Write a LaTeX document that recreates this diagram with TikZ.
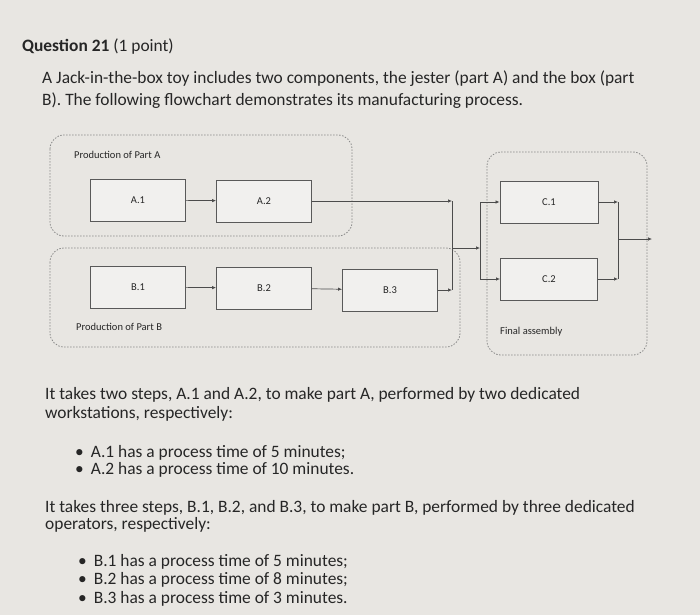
\documentclass[tikz,border=0pt]{standalone}
\usepackage{fontspec}
\setmainfont{Carlito}
\usetikzlibrary{arrows.meta}
\definecolor{bg}{HTML}{E8E6E2}
\definecolor{ink}{HTML}{262626}
\definecolor{grp}{HTML}{8A8A8A}
\begin{document}
\begin{tikzpicture}[x=1pt,y=-1pt,
  txt/.style={anchor=base west,inner sep=0pt,font=\fontsize{17.4}{19}\selectfont,text=ink},
  stepbox/.style={draw=gray!70!black,line width=0.9pt,fill=bg!60!white,minimum width=95pt,minimum height=42pt,font=\fontsize{10.5}{12}\selectfont,text=ink,inner sep=0pt},
  group/.style={draw=grp,dashed,dash pattern=on 1.5pt off 1.5pt,rounded corners=14pt,line width=0.8pt},
  glabel/.style={anchor=base west,inner sep=0pt,font=\fontsize{10.5}{12}\selectfont,text=ink},
  conn/.style={draw=gray!60!black,line width=0.7pt},
  arr/.style={conn,-{Latex[length=4pt,width=3.5pt]}}]
\fill[bg] (0,0) rectangle (700,615);
\useasboundingbox (0,0) rectangle (700,615);
\node[txt] (q) at (22,52) {\textbf{Question 21} (1 point)};
\node[txt] (p1) at (42,84) {A Jack-in-the-box toy includes two components, the jester (part A) and the box (part};
\node[txt] (p2) at (42,106) {B). The following flowchart demonstrates its manufacturing process.};
% groups
\draw[group] (50,135) rectangle (352,236);
\draw[group] (50,248) rectangle (460,347);
\draw[group] (487,152) rectangle (647,355);
\node[glabel] (ga) at (74,158) {Production of Part A};
\node[glabel] (gb) at (76,330) {Production of Part B};
\node[glabel] (gc) at (500,334) {Final assembly};
% boxes
\node[stepbox] (a1) at (138,200) {A.1};
\node[stepbox] (a2) at (264,201) {A.2};
\node[stepbox] (b1) at (138,287) {B.1};
\node[stepbox] (b2) at (264,288) {B.2};
\node[stepbox] (b3) at (390,290) {B.3};
\node[stepbox,minimum width=98pt] (c1) at (549,202) {C.1};
\node[stepbox,minimum width=97pt] (c2) at (549,279) {C.2};
\coordinate (ja) at (452,201);
\coordinate (jb) at (452,290);
\coordinate (jm) at (452,248);
\coordinate (jx) at (480,248);
\coordinate (jc1) at (480,202);
\coordinate (jc2) at (480,279);
\coordinate (k1) at (618,202);
\coordinate (k2) at (618,279);
\coordinate (km) at (618,239);
\coordinate (out) at (652,239);
\draw[arr] (a1) -- (a2);
\draw[arr] (b1) -- (b2);
\draw[arr] (b2) -- (b3);
\draw[arr] (a2.east) -- (ja);
\draw[arr] (b3.east) -- (jb);
\draw[conn] (ja) -- (jb);
\draw[arr] (jm) -- (jx);
\draw[conn] (jc1) -- (jc2);
\draw[arr] (jc1) -- (c1.west);
\draw[arr] (jc2) -- (c2.west);
\draw[arr] (c1.east) -- (k1);
\draw[arr] (c2.east) -- (k2);
\draw[conn] (k1) -- (k2);
\draw[arr] (km) -- (out);
% lower text
\node[txt] (t1) at (45,399) {It takes two steps, A.1 and A.2, to make part A, performed by two dedicated};
\node[txt] (t2) at (45,418) {workstations, respectively:};
\node[txt] (t3) at (75,457) {\textbullet\hspace{7pt}A.1 has a process time of 5 minutes;};
\node[txt] (t4) at (75,474) {\textbullet\hspace{7pt}A.2 has a process time of 10 minutes.};
\node[txt] (t5) at (45,512) {It takes three steps, B.1, B.2, and B.3, to make part B, performed by three dedicated};
\node[txt] (t6) at (45,529) {operators, respectively:};
\node[txt] (t7) at (78,566) {\textbullet\hspace{7pt}B.1 has a process time of 5 minutes;};
\node[txt] (t8) at (78,584) {\textbullet\hspace{7pt}B.2 has a process time of 8 minutes;};
\node[txt] (t9) at (78,603) {\textbullet\hspace{7pt}B.3 has a process time of 3 minutes.};
\end{tikzpicture}
\end{document}
